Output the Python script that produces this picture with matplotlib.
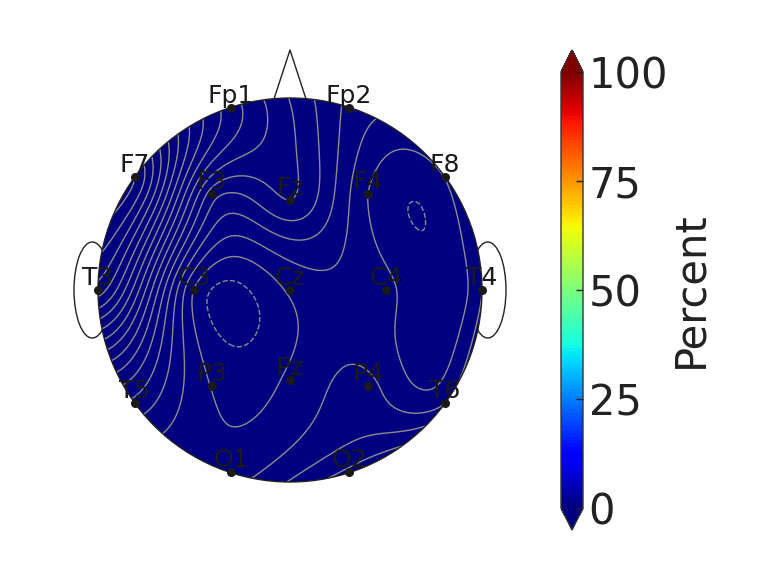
import numpy as np
import matplotlib

matplotlib.use("Agg")
import matplotlib.pyplot as plt
from matplotlib.cm import ScalarMappable
from matplotlib.colors import Normalize
from matplotlib.patches import Circle, Ellipse

# channel values in percent
CHANNELS = ["Fp1", "Fp2", "F7", "F3", "Fz", "F4", "F8",
            "T3", "C3", "Cz", "C4", "T4",
            "T5", "P3", "Pz", "P4", "T6", "O1", "O2"]
VALUES = [0.26, 0.07, 0.60, 0.14, 0.16, 0.0, 0.002,
          0.50, -0.002, 0.006, 0.012, 0.039,
          0.108, -0.002, 0.008, 0.05, 0.039, 0.02, 0.13]
CONTOUR_LEVELS = [round(k * 0.04, 3) for k in range(-10, 26)]
CBAR_TICKS = [0, 25, 50, 75, 100]
CBAR_LABEL = "Percent"

# 2-D electrode layout on a unit head circle (nose up)
MONTAGE = {
    "Fp1": (-0.307, 0.948), "Fp2": (0.307, 0.948),
    "F7": (-0.807, 0.589), "F3": (-0.406, 0.500), "Fz": (0.0, 0.469),
    "F4": (0.406, 0.500), "F8": (0.807, 0.589),
    "T3": (-1.0, 0.0), "C3": (-0.5, 0.0), "Cz": (0.0, 0.0),
    "C4": (0.5, 0.0), "T4": (1.0, 0.0),
    "T5": (-0.807, -0.589), "P3": (-0.406, -0.500), "Pz": (0.0, -0.469),
    "P4": (0.406, -0.500), "T6": (0.807, -0.589),
    "O1": (-0.307, -0.948), "O2": (0.307, -0.948),
}


def green(r):
    with np.errstate(divide="ignore", invalid="ignore"):
        g = r ** 2 * (np.log(r) - 1.0)
    g[r == 0] = 0.0
    return g


def spline_grid(pos, vals, xi, yi):
    # biharmonic spline, like griddata "v4"
    d = np.hypot(pos[:, None, 0] - pos[None, :, 0], pos[:, None, 1] - pos[None, :, 1])
    w = np.linalg.solve(green(d), vals)
    dg = np.hypot(xi[..., None] - pos[:, 0], yi[..., None] - pos[:, 1])
    return green(dg) @ w


def main() -> None:
    pos = np.array([MONTAGE[ch] for ch in CHANNELS])
    vals = np.array(VALUES, dtype=float)

    fig = plt.figure(figsize=(7.64, 5.8), dpi=100)
    ax = fig.add_axes([40.4 / 764, 40.4 / 580, 499.2 / 764, 499.2 / 580])
    ax.set_xlim(-1.3, 1.3)
    ax.set_ylim(-1.3, 1.3)
    ax.set_aspect("equal")
    ax.axis("off")

    g = np.linspace(-1.06, 1.06, 240)
    xi, yi = np.meshgrid(g, g)
    zi = spline_grid(pos, vals, xi, yi)
    zi[np.hypot(xi, yi) > 1.05] = np.nan

    cmap = plt.get_cmap("jet", 128)
    norm = Normalize(0, 100)
    clip = Circle((0, 0), 1.0, transform=ax.transData)

    cf = ax.contourf(xi, yi, zi, levels=np.linspace(0, 100, 129), cmap=cmap,
                     norm=norm, extend="both", zorder=1)
    cf.set_clip_path(clip)
    cs = ax.contour(xi, yi, zi, levels=CONTOUR_LEVELS, colors="#8c8c8c",
                    linewidths=1, zorder=2)
    cs.set_clip_path(clip)

    # head outline, nose, ears
    ax.add_patch(Circle((0, 0), 1.0, fill=False, ec="#222222", lw=1, zorder=3))
    ax.plot([-0.083, 0, 0.083], [0.996, 1.25, 0.996], color="#222222", lw=1, zorder=3)
    for side in (-1, 1):
        ax.add_patch(Ellipse((side * 1.03, 0), 0.19, 0.5, fill=False,
                             ec="#222222", lw=1, zorder=0))

    ax.plot(pos[:, 0], pos[:, 1], "o", color="#1a1a1a", ms=5.5, zorder=5)
    for ch, (x, y) in zip(CHANNELS, pos):
        ax.text(x, y, ch, ha="center", va="bottom", fontsize=18,
                color="#1a1a1a", zorder=5)

    # extension triangles sit inside this box
    cax = fig.add_axes([561 / 764, 50 / 580, 22 / 764, 480 / 580])
    cb = fig.colorbar(ScalarMappable(norm=norm, cmap=cmap), cax=cax,
                      extend="both", ticks=CBAR_TICKS)
    cb.ax.tick_params(labelsize=30, direction="in", length=5, width=1,
                      pad=4, colors="#222222")
    cb.outline.set_edgecolor("#333333")
    cb.outline.set_linewidth(1)
    cb.set_label(CBAR_LABEL, fontsize=30, labelpad=1, color="#222222")

    fig.savefig("out.png", dpi=100)
    plt.close(fig)


if __name__ == "__main__":
    main()
